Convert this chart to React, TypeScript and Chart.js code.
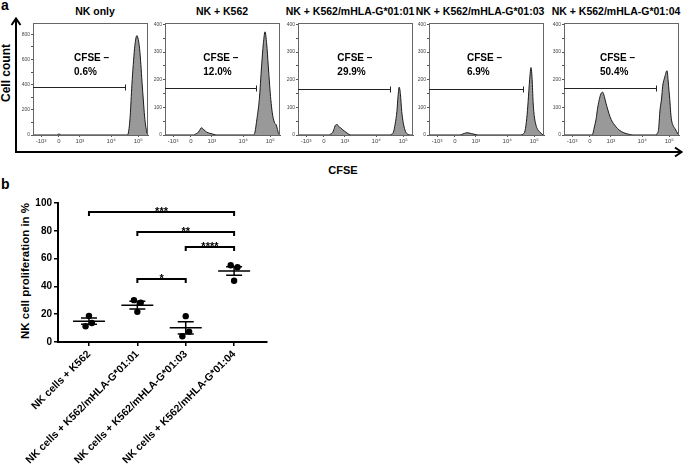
import React, { useEffect, useRef } from "react";
import { Chart, registerables } from "chart.js";
Chart.register(...registerables);

const FONT = '"Liberation Sans", Arial, Helvetica, sans-serif';
Chart.defaults.font.family = FONT;

// ---------------- panel a : CFSE histograms ----------------
const panelTitles = [
  "NK only",
  "NK + K562",
  "NK + K562/mHLA-G*01:01",
  "NK + K562/mHLA-G*01:03",
  "NK + K562/mHLA-G*01:04",
];
const cfseNegative = ["0.6%", "12.0%", "29.9%", "6.9%", "50.4%"];
const cfseTickValues = [70, 225, 408, 680, 915];
const cfseTickLabels = ["-10³", "0", "10³", "10⁴", "10⁵"];
const countMax = [890, 405, 405, 405, 405];
const countMajorStep = [200, 100, 100, 100, 100];
const gateCount = [385, 170, 168, 168, 170];
const gateEnd = [800, 795, 800, 815, 800];

const nkOnlyX = [0, 205, 215, 225, 235, 245, 820, 832, 845, 860, 872, 883, 895, 904, 915, 927, 938, 948, 960, 970, 982, 992, 1000];
const nkOnlyY = [0, 0, 4, 8, 4, 0, 0, 30, 150, 400, 560, 685, 770, 790, 760, 685, 560, 420, 270, 150, 60, 15, 0];

const k562X = [0, 250, 263, 280, 300, 316, 332, 350, 375, 400, 425, 450, 770, 782, 800, 820, 840, 855, 870, 884, 898, 910, 920, 933, 945, 955, 965, 975, 988, 1000];
const k562Y = [0, 0, 3, 6, 16, 26, 22, 14, 8, 5, 2, 0, 0, 10, 60, 128, 250, 330, 373, 330, 250, 180, 128, 80, 54, 42, 38, 25, 5, 0];

const g0101X = [0, 270, 283, 300, 312, 325, 340, 355, 370, 385, 405, 430, 460, 800, 815, 830, 845, 860, 870, 880, 890, 902, 915, 930, 945, 960, 975, 1000];
const g0101Y = [0, 0, 3, 8, 20, 35, 38, 30, 26, 20, 14, 6, 0, 0, 3, 10, 40, 85, 140, 173, 150, 85, 45, 18, 6, 2, 0, 0];

const g0103X = [0, 270, 290, 310, 330, 350, 370, 400, 430, 800, 820, 835, 850, 862, 875, 887, 897, 905, 915, 930, 945, 960, 975, 990, 1000];
const g0103Y = [0, 0, 3, 6, 8, 7, 5, 2, 0, 0, 4, 15, 60, 121, 200, 244, 200, 121, 70, 36, 20, 12, 6, 1, 0];

const g0104X = [0, 245, 264, 280, 290, 305, 320, 336, 350, 365, 382, 400, 420, 440, 453, 480, 520, 560, 600, 800, 810, 822, 835, 848, 858, 870, 880, 890, 897, 905, 913, 920, 928, 935, 948, 965, 980, 992, 1000];
const g0104Y = [0, 0, 29, 60, 91, 125, 148, 155, 140, 115, 90, 66, 48, 36, 29, 18, 8, 3, 0, 0, 5, 20, 91, 130, 176, 201, 215, 230, 232, 200, 160, 128, 80, 54, 35, 23, 12, 3, 0];

const histX = [nkOnlyX, k562X, g0101X, g0103X, g0104X];
const histY = [nkOnlyY, k562Y, g0101Y, g0103Y, g0104Y];

// ---------------- panel b : proliferation ----------------
const categories = [
  "NK cells + K562",
  "NK cells + K562/mHLA-G*01:01",
  "NK cells + K562/mHLA-G*01:03",
  "NK cells + K562/mHLA-G*01:04",
];
const groupK562X = [1.0, 0.93, 1.06];
const groupK562Y = [18.8, 11.3, 13.7];
const group0101X = [1.93, 2.07, 2.0];
const group0101Y = [30.1, 28.2, 21.7];
const group0103X = [3.0, 3.07, 2.93];
const group0103Y = [18.6, 7.5, 4.1];
const group0104X = [3.93, 4.07, 4.0];
const group0104Y = [55.2, 53.8, 44.1];
const groupMean = [15.0, 26.5, 10.2, 51.1];
const groupSem = [2.2, 2.8, 4.4, 3.1];
const bracketFrom = [1, 2, 3, 2];
const bracketTo = [4, 4, 4, 3];
const bracketLevel = [93.5, 79.3, 68.7, 45.3];
const bracketStars = ["***", "**", "****", "*"];

// ---------------- layout (style only) ----------------
const PANEL_LEFT = [33, 165, 298, 429, 564];
const PANEL_W = 115;
const LABEL_LEFT = [357, 333, 342, 330, 313];
const TITLE_CENTER = [95, 222, 350, 480, 616];

function Histogram({ idx }: { idx: number }) {
  const ref = useRef<HTMLCanvasElement>(null);
  useEffect(() => {
    const xs = histX[idx];
    const ys = histY[idx];
    const step = countMajorStep[idx];
    const max = countMax[idx];
    const gatePlugin = {
      id: "gate" + idx,
      afterDatasetsDraw(chart: any) {
        const { ctx, chartArea, scales } = chart;
        const x = scales.x;
        const y = scales.y;
        ctx.save();
        ctx.strokeStyle = "#666";
        ctx.lineWidth = 1;
        ctx.strokeRect(chartArea.left + 0.5, chartArea.top + 0.5, chartArea.right - chartArea.left - 1, chartArea.bottom - chartArea.top);
        const py = Math.round(y.getPixelForValue(gateCount[idx])) + 0.5;
        const px = Math.round(x.getPixelForValue(gateEnd[idx])) + 0.5;
        ctx.strokeStyle = "#222";
        ctx.beginPath();
        ctx.moveTo(chartArea.left, py);
        ctx.lineTo(px, py);
        ctx.moveTo(px, py - 3);
        ctx.lineTo(px, py + 3);
        ctx.stroke();
        ctx.fillStyle = "#000";
        ctx.font = "bold 10px " + FONT;
        ctx.textBaseline = "middle";
        ctx.textAlign = "left";
        const lx = x.getPixelForValue(LABEL_LEFT[idx]);
        ctx.fillText("CFSE –", lx, chartArea.top + 35);
        ctx.fillText(cfseNegative[idx], lx, chartArea.top + 49);
        ctx.restore();
      },
    };
    const chart = new Chart(ref.current as HTMLCanvasElement, {
      type: "line",
      data: {
        datasets: [
          {
            data: xs.map((x, i) => ({ x, y: ys[i] })),
            borderColor: "#1a1a1a",
            borderWidth: 1,
            backgroundColor: "#999999",
            fill: "origin",
            pointRadius: 0,
            cubicInterpolationMode: "monotone",
          } as any,
        ],
      },
      options: {
        responsive: false,
        animation: false,
        events: [],
        layout: { padding: { top: 5, right: 4, left: 0, bottom: 0 } },
        plugins: { legend: { display: false }, tooltip: { enabled: false } },
        scales: {
          x: {
            type: "linear",
            min: 0,
            max: 1000,
            afterBuildTicks: (s: any) => {
              s.ticks = cfseTickValues.map((v) => ({ value: v }));
            },
            afterFit: (s: any) => {
              s.height = 14;
            },
            ticks: {
              autoSkip: false,
              maxRotation: 0,
              padding: 1,
              font: { size: 6 },
              color: "#444",
              callback: (v: any) => {
                const k = cfseTickValues.indexOf(Number(v));
                return k >= 0 ? cfseTickLabels[k] : "";
              },
            },
            grid: { drawOnChartArea: false, tickLength: 2, color: "#555" },
            border: { color: "#555", width: 1 },
          },
          y: {
            min: 0,
            max,
            afterBuildTicks: (s: any) => {
              const t: any[] = [];
              for (let v = 0; v <= max; v += step / 2) t.push({ value: v });
              s.ticks = t;
            },
            afterFit: (s: any) => {
              s.width = 14;
            },
            ticks: {
              autoSkip: false,
              padding: 1,
              font: { size: 5 },
              color: "#444",
              callback: (v: any) => (Number(v) % step === 0 ? String(v) : ""),
            },
            grid: { drawOnChartArea: false, tickLength: 2, color: "#555" },
            border: { color: "#555", width: 1 },
          },
        },
      },
      plugins: [gatePlugin],
    });
    return () => chart.destroy();
  }, [idx]);
  return (
    <canvas
      ref={ref}
      width={PANEL_W + 18}
      height={131}
      style={{ position: "absolute", left: PANEL_LEFT[idx] - 14, top: 18, width: PANEL_W + 18, height: 131 }}
    />
  );
}

function Proliferation() {
  const ref = useRef<HTMLCanvasElement>(null);
  useEffect(() => {
    const gx = [groupK562X, group0101X, group0103X, group0104X];
    const gy = [groupK562Y, group0101Y, group0103Y, group0104Y];
    const pts: { x: number; y: number }[] = [];
    gx.forEach((xs, g) => xs.forEach((x, i) => pts.push({ x, y: gy[g][i] })));
    const statPlugin = {
      id: "stats",
      beforeDatasetsDraw(chart: any) {
        const { ctx, scales } = chart;
        const x = scales.x;
        const y = scales.y;
        ctx.save();
        ctx.strokeStyle = "#000";
        ctx.lineWidth = 1.5;
        groupMean.forEach((m, i) => {
          const cx = x.getPixelForValue(i + 1);
          const ym = y.getPixelForValue(m);
          const yh = y.getPixelForValue(m + groupSem[i]);
          const yl = y.getPixelForValue(m - groupSem[i]);
          ctx.beginPath();
          ctx.moveTo(cx - 16, ym);
          ctx.lineTo(cx + 16, ym);
          ctx.moveTo(cx, yh);
          ctx.lineTo(cx, yl);
          ctx.moveTo(cx - 8, yh);
          ctx.lineTo(cx + 8, yh);
          ctx.moveTo(cx - 8, yl);
          ctx.lineTo(cx + 8, yl);
          ctx.stroke();
        });
        ctx.restore();
      },
      afterDatasetsDraw(chart: any) {
        const { ctx, scales } = chart;
        const x = scales.x;
        const y = scales.y;
        ctx.save();
        ctx.strokeStyle = "#000";
        ctx.fillStyle = "#000";
        ctx.lineWidth = 2;
        ctx.font = "bold 11px " + FONT;
        ctx.textAlign = "center";
        ctx.textBaseline = "alphabetic";
        bracketLevel.forEach((lv, i) => {
          const x1 = x.getPixelForValue(bracketFrom[i]);
          const x2 = x.getPixelForValue(bracketTo[i]);
          const yy = Math.round(y.getPixelForValue(lv));
          ctx.beginPath();
          ctx.moveTo(x1, yy + 4);
          ctx.lineTo(x1, yy);
          ctx.lineTo(x2, yy);
          ctx.lineTo(x2, yy + 4);
          ctx.stroke();
          ctx.fillText(bracketStars[i], (x1 + x2) / 2, yy + 3);
        });
        ctx.restore();
      },
    };
    const chart = new Chart(ref.current as HTMLCanvasElement, {
      type: "scatter",
      data: {
        datasets: [
          {
            data: pts,
            backgroundColor: "#000",
            borderColor: "#000",
            borderWidth: 0,
            pointRadius: 3.2,
          },
        ],
      },
      options: {
        responsive: false,
        animation: false,
        events: [],
        layout: { padding: { top: 13, right: 33, left: 0, bottom: 0 } },
        plugins: { legend: { display: false }, tooltip: { enabled: false } },
        scales: {
          x: {
            type: "linear",
            min: 0.36,
            max: 4.68,
            afterBuildTicks: (s: any) => {
              s.ticks = categories.map((_, i) => ({ value: i + 1 }));
            },
            afterFit: (s: any) => {
              s.height = 123;
            },
            ticks: {
              autoSkip: false,
              minRotation: 45,
              maxRotation: 45,
              padding: 2,
              color: "#000",
              font: { size: 10.5, weight: "bold" },
              callback: (v: any) => categories[Number(v) - 1] ?? "",
            },
            grid: { drawOnChartArea: false, tickLength: 4, color: "#000", lineWidth: 1.5 },
            border: { color: "#000", width: 2 },
          },
          y: {
            min: 0,
            max: 100,
            afterBuildTicks: (s: any) => {
              const t: any[] = [];
              for (let v = 0; v <= 100; v += 20) t.push({ value: v });
              s.ticks = t;
            },
            afterFit: (s: any) => {
              s.width = 58;
            },
            ticks: {
              autoSkip: false,
              padding: 2,
              color: "#000",
              font: { size: 10, weight: "bold" },
            },
            grid: { drawOnChartArea: false, tickLength: 4, color: "#000", lineWidth: 1.5 },
            border: { color: "#000", width: 2 },
          },
        },
      },
      plugins: [statPlugin],
    });
    return () => chart.destroy();
  }, []);
  return (
    <canvas
      ref={ref}
      width={300}
      height={275}
      style={{ position: "absolute", left: 0, top: 190, width: 300, height: 275 }}
    />
  );
}

const textBase: React.CSSProperties = {
  position: "absolute",
  fontFamily: FONT,
  fontWeight: "bold",
  color: "#000",
  whiteSpace: "nowrap",
  lineHeight: 1,
};

export default function App() {
  return (
    <div style={{ position: "absolute", left: 0, top: 0, width: 685, height: 465, background: "#fff", overflow: "hidden" }}>
      <div style={{ ...textBase, left: 1, top: -2, fontSize: 14 }}>a</div>
      <div style={{ ...textBase, left: 1, top: 177, fontSize: 14 }}>b</div>
      {panelTitles.map((t, i) => (
        <div key={t} style={{ ...textBase, left: TITLE_CENTER[i], top: 6, fontSize: 10.5, transform: "translateX(-50%)" }}>
          {t}
        </div>
      ))}
      <div style={{ ...textBase, left: 6, top: 73, fontSize: 12, transform: "translate(-50%, -50%) rotate(-90deg)" }}>Cell count</div>
      <div style={{ ...textBase, left: 343, top: 170, fontSize: 11, transform: "translate(-50%, -50%)" }}>CFSE</div>
      <div style={{ ...textBase, left: 26, top: 271, fontSize: 11.5, transform: "translate(-50%, -50%) rotate(-90deg)" }}>
        NK cell proliferation in %
      </div>
      {PANEL_LEFT.map((_, i) => (
        <Histogram key={i} idx={i} />
      ))}
      <svg width={685} height={465} style={{ position: "absolute", left: 0, top: 0, pointerEvents: "none" }}>
        <g stroke="#000" strokeWidth={2} fill="none">
          <polyline points="16,19 16,152 681,152" />
          <polyline points="11.5,25 16,18.5 20.5,25" />
          <polyline points="675,147.5 681.5,152 675,156.5" />
        </g>
      </svg>
      <Proliferation />
    </div>
  );
}
